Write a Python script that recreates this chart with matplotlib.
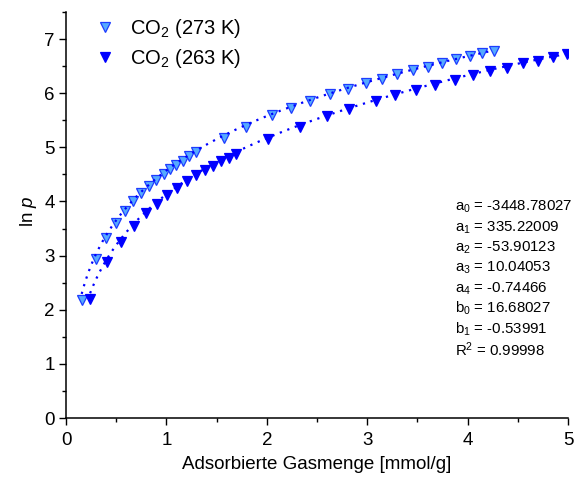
import numpy as np
import matplotlib
matplotlib.use("Agg")
import matplotlib.pyplot as plt
from matplotlib.ticker import MultipleLocator

plt.rcParams["font.family"] = ["Liberation Sans", "DejaVu Sans"]
plt.rcParams["mathtext.fontset"] = "custom"
plt.rcParams["mathtext.rm"] = "Liberation Sans"
plt.rcParams["mathtext.it"] = "Liberation Sans:italic"

# Adsorption isotherm data, ln p versus loading N [mmol/g]
n_273 = [0.156, 0.30, 0.40, 0.495, 0.59, 0.67, 0.75, 0.83, 0.90, 0.976, 1.04,
         1.10, 1.17, 1.23, 1.29, 1.57, 1.79, 2.05, 2.24, 2.43, 2.63, 2.81,
         2.985, 3.15, 3.30, 3.46, 3.61, 3.75, 3.88, 4.02, 4.14, 4.26]
lnp_273 = [2.18, 2.94, 3.33, 3.60, 3.82, 4.00, 4.15, 4.29, 4.40, 4.51, 4.60,
           4.67, 4.75, 4.84, 4.91, 5.18, 5.38, 5.60, 5.72, 5.85, 5.98, 6.08,
           6.18, 6.27, 6.35, 6.43, 6.49, 6.56, 6.63, 6.68, 6.74, 6.78]

n_263 = [0.24, 0.41, 0.545, 0.68, 0.80, 0.91, 1.01, 1.11, 1.205, 1.295, 1.38,
         1.46, 1.54, 1.62, 1.69, 2.015, 2.33, 2.60, 2.82, 3.09, 3.28, 3.49,
         3.68, 3.87, 4.05, 4.22, 4.39, 4.55, 4.70, 4.85, 4.99]
lnp_263 = [2.19, 2.88, 3.26, 3.55, 3.78, 3.96, 4.12, 4.25, 4.38, 4.48, 4.58,
           4.66, 4.74, 4.81, 4.88, 5.16, 5.38, 5.57, 5.70, 5.86, 5.96, 6.06,
           6.16, 6.25, 6.34, 6.41, 6.47, 6.55, 6.60, 6.66, 6.72]

# Virial fit parameters
a_coef = [-3448.78027, 335.22009, -53.90123, 10.04053, -0.74466]
b_coef = [16.68027, -0.53991]
r_squared = 0.99998


def virial(n, temp):
    a_sum = sum(a * n ** i for i, a in enumerate(a_coef))
    b_sum = sum(b * n ** i for i, b in enumerate(b_coef))
    return np.log(n) + a_sum / temp + b_sum


fig = plt.figure(figsize=(5.81, 4.79), dpi=100)
ax = fig.add_axes([0.1136, 0.1273, 0.864, 0.8477])

light = "#55AAFF"
dark = "#0000FF"

ax.plot(n_273, lnp_273, linestyle="none", marker="v", ms=7.5,
        mfc=light, mec="#1E3CFF", mew=0.9, label=r"CO$_2$ (273 K)", zorder=3)
ax.plot(n_263, lnp_263, linestyle="none", marker="v", ms=7.5,
        mfc=dark, mec=dark, mew=0.9, label=r"CO$_2$ (263 K)", zorder=3)

for n_data, temp in ((n_273, 273.0), (n_263, 263.0)):
    nn = np.linspace(min(n_data), max(n_data), 300)
    ax.plot(nn, virial(nn, temp), color=dark, lw=1.6,
            linestyle=(0, (1, 2.6)), zorder=4)

ax.set_xlim(0, 5)
ax.set_ylim(0, 7.5)
ax.xaxis.set_major_locator(MultipleLocator(1))
ax.xaxis.set_minor_locator(MultipleLocator(0.5))
ax.yaxis.set_major_locator(MultipleLocator(1))
ax.yaxis.set_minor_locator(MultipleLocator(0.5))
ax.tick_params(which="both", direction="out", width=1.0, labelsize=13.5)
ax.tick_params(axis="x", pad=5)
ax.tick_params(axis="y", pad=3)
ax.tick_params(which="major", length=5)
ax.tick_params(which="minor", length=3)
for side in ("top", "right"):
    ax.spines[side].set_visible(False)
for side in ("left", "bottom"):
    ax.spines[side].set_linewidth(1.1)

ax.set_xlabel("Adsorbierte Gasmenge [mmol/g]", fontsize=13.5, labelpad=5)
ax.set_ylabel(r"ln $\mathit{p}$", fontsize=13.5)
ax.yaxis.set_label_coords(-0.053, 0.51)

leg = ax.legend(loc="upper left", frameon=False, fontsize=14.5,
                bbox_to_anchor=(0.02, 1.032), handletextpad=0.7,
                labelspacing=0.33, handlelength=1.1)

labels = [f"a$_{i}$ = {a:.5f}" for i, a in enumerate(a_coef)]
labels += [f"b$_{i}$ = {b:.5f}" for i, b in enumerate(b_coef)]
labels += [f"R$^2$ = {r_squared:.5f}"]
for k, txt in enumerate(labels):
    ax.text(0.7745, 0.519 - k * 0.05, txt, transform=ax.transAxes,
            fontsize=10.8, va="center", ha="left")

fig.savefig("out.png", dpi=100)
